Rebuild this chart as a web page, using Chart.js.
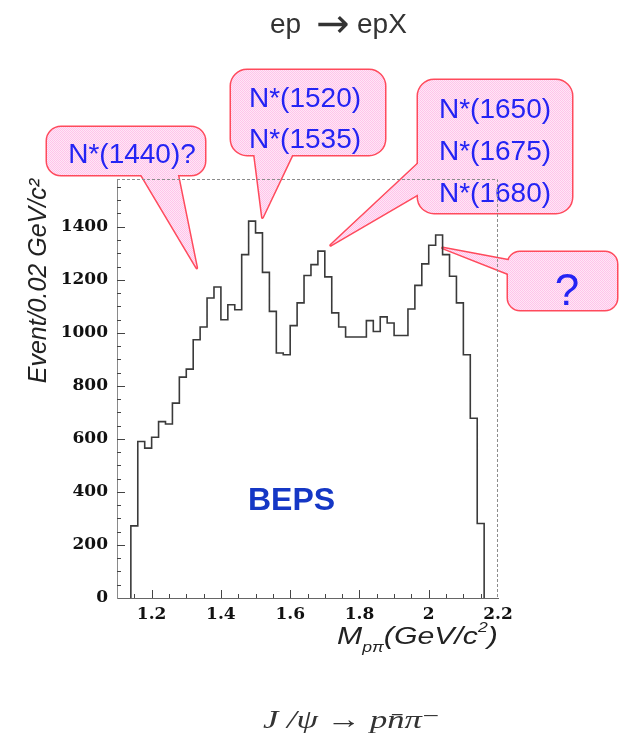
<!DOCTYPE html>
<html>
<head>
<meta charset="utf-8">
<script src="https://cdn.jsdelivr.net/npm/chart.js@4"></script>
<style>
  html, body { margin: 0; padding: 0; background: #fff; }
  #wrap { width: 619px; height: 739px; position: relative; }
</style>
</head>
<body>
<div id="wrap"><canvas id="massChart"></canvas></div>
<script>
// p-pi invariant mass, lower edge of each 0.02 GeV/c^2 bin
const binLow = [
  1.14, 1.16, 1.18, 1.20, 1.22, 1.24, 1.26, 1.28, 1.30, 1.32,
  1.34, 1.36, 1.38, 1.40, 1.42, 1.44, 1.46, 1.48, 1.50, 1.52,
  1.54, 1.56, 1.58, 1.60, 1.62, 1.64, 1.66, 1.68, 1.70, 1.72,
  1.74, 1.76, 1.78, 1.80, 1.82, 1.84, 1.86, 1.88, 1.90, 1.92,
  1.94, 1.96, 1.98, 2.00, 2.02, 2.04, 2.06, 2.08, 2.10, 2.12,
  2.14
];
const binWidth = 0.02;
const counts = [
  272, 590, 565, 606, 665, 656, 735, 833, 863, 974,
  1022, 1131, 1173, 1049, 1106, 1087, 1295, 1421, 1377, 1228,
  1081, 924, 917, 1027, 1113, 1216, 1257, 1308, 1211, 1075,
  1022, 984, 984, 984, 1046, 1005, 1060, 1037, 990, 990,
  1090, 1179, 1260, 1330, 1369, 1295, 1213, 1113, 917, 678,
  281
];

const xTicks = [1.2, 1.4, 1.6, 1.8, 2.0, 2.2];
const xTickLabels = ["1.2", "1.4", "1.6", "1.8", "2", "2.2"];
const yTicks = [0, 200, 400, 600, 800, 1000, 1200, 1400];
const yTickLabels = ["0", "200", "400", "600", "800", "1000", "1200", "1400"];

const resonanceLabels = [
  ["N*(1440)?"],
  ["N*(1520)", "N*(1535)"],
  ["N*(1650)", "N*(1675)", "N*(1680)"],
  ["?"]
];

// step outline: rise from zero at the first edge, drop back after the last bin
const histPoints = [{ x: binLow[0], y: 0 }];
binLow.forEach((x, i) => histPoints.push({ x: x, y: counts[i] }));
histPoints.push({ x: binLow[binLow.length - 1] + binWidth, y: 0 });

Chart.defaults.font.family = '"Liberation Sans", Arial, sans-serif';

// speech-bubble boxes; tip is given in (mass, events)
const callouts = [
  { box: [47, 127, 158, 48], r: 14, base: [[139, 171], [177, 171]], tip: [1.33, 1245],
    tx: 132, ty: 163, gap: 41, size: 28 },
  { box: [231, 70, 154, 85], r: 16, base: [[254, 151], [294, 151]], tip: [1.52, 1435],
    tx: 305, ty: 107, gap: 41, size: 28 },
  { box: [418, 80, 154, 133], r: 16, base: [[422, 160], [422, 192]], tip: [1.717, 1330],
    tx: 495, ty: 118, gap: 42, size: 28 },
  { box: [508, 252, 109, 58], r: 12, base: [[512, 261], [514, 276]], tip: [2.04, 1320],
    tx: 567, ty: 305, gap: 0, size: 44 }
];

function roundRectPath(ctx, x, y, w, h, r) {
  ctx.beginPath();
  ctx.moveTo(x + r, y);
  ctx.arcTo(x + w, y, x + w, y + h, r);
  ctx.arcTo(x + w, y + h, x, y + h, r);
  ctx.arcTo(x, y + h, x, y, r);
  ctx.arcTo(x, y, x + w, y, r);
  ctx.closePath();
}

const calloutPlugin = {
  id: 'callouts',
  beforeDatasetsDraw(chart) {
    const { ctx, scales: { x, y } } = chart;
    const tile = document.createElement('canvas');
    tile.width = tile.height = 2;
    const t = tile.getContext('2d');
    t.fillStyle = '#ffe6f6';
    t.fillRect(0, 0, 2, 2);
    t.fillStyle = '#ffc4ea';
    t.fillRect(0, 0, 1, 1);
    t.fillRect(1, 1, 1, 1);
    const pattern = ctx.createPattern(tile, 'repeat');

    ctx.save();
    callouts.forEach((c, i) => {
      const [bx, by, bw, bh] = c.box;
      const px = x.getPixelForValue(c.tip[0]);
      const py = y.getPixelForValue(c.tip[1]);
      const tail = () => {
        ctx.beginPath();
        ctx.moveTo(c.base[0][0], c.base[0][1]);
        ctx.lineTo(px, py);
        ctx.lineTo(c.base[1][0], c.base[1][1]);
        ctx.closePath();
      };
      // outline first, then the fill covers the inner half and the joins
      ctx.strokeStyle = '#ff4a5c';
      ctx.lineWidth = 3;
      ctx.lineJoin = 'round';
      roundRectPath(ctx, bx, by, bw, bh, c.r);
      ctx.stroke();
      tail();
      ctx.stroke();
      ctx.fillStyle = pattern;
      roundRectPath(ctx, bx, by, bw, bh, c.r);
      ctx.fill();
      tail();
      ctx.fill();

      ctx.fillStyle = '#2424f4';
      ctx.font = c.size + 'px "Liberation Sans", Arial, sans-serif';
      ctx.textAlign = 'center';
      ctx.textBaseline = 'alphabetic';
      resonanceLabels[i].forEach((s, k) => ctx.fillText(s, c.tx, c.ty + k * c.gap));
    });
    ctx.restore();
  }
};

const framePlugin = {
  id: 'frameTicks',
  afterDatasetsDraw(chart) {
    const { ctx, chartArea: a, scales: { x, y } } = chart;
    ctx.save();
    // dotted top and right edges of the frame
    ctx.strokeStyle = '#8c8c8c';
    ctx.lineWidth = 1;
    ctx.setLineDash([3, 2]);
    ctx.beginPath();
    ctx.moveTo(a.left, a.top + 0.5);
    ctx.lineTo(a.right - 0.5, a.top + 0.5);
    ctx.lineTo(a.right - 0.5, a.bottom);
    ctx.stroke();
    ctx.setLineDash([]);

    // inward ticks: majors every 200 / 0.2, minors every 50 / 0.05
    ctx.strokeStyle = '#444';
    ctx.beginPath();
    for (let v = 50; v <= 1550; v += 50) {
      const py = Math.round(y.getPixelForValue(v)) + 0.5;
      const len = v % 200 === 0 ? 8 : 4;
      ctx.moveTo(a.left, py);
      ctx.lineTo(a.left + len, py);
    }
    for (let k = 23; k <= 43; k++) {
      const px = Math.round(x.getPixelForValue(k * 0.05)) + 0.5;
      const len = k % 4 === 0 ? 8 : 4;
      ctx.moveTo(px, a.bottom);
      ctx.lineTo(px, a.bottom - len);
    }
    ctx.stroke();
    ctx.restore();
  },
  afterDraw(chart) {
    const { ctx } = chart;
    ctx.save();
    ctx.textBaseline = 'alphabetic';

    // reaction title, larger arrow between the two halves
    ctx.fillStyle = '#333';
    ctx.textAlign = 'left';
    ctx.font = '28px "Liberation Sans", Arial, sans-serif';
    ctx.fillText('ep', 270, 33);
    ctx.fillText('epX', 357, 33);
    ctx.textAlign = 'center';
    ctx.font = '40px "DejaVu Sans", sans-serif';
    ctx.fillText('\u2192', 333, 37);

    // experiment tag
    ctx.fillStyle = '#1537c5';
    ctx.font = 'bold 32px "Liberation Sans", Arial, sans-serif';
    ctx.textAlign = 'left';
    ctx.fillText('BEPS', 248, 510);

    // x-axis title with subscript and superscript
    ctx.fillStyle = '#222';
    ctx.translate(337, 644);
    ctx.scale(1.26, 1);
    const big = 'italic 24px "Liberation Sans", Arial, sans-serif';
    const small = 'italic 14px "Liberation Sans", Arial, sans-serif';
    let cx = 0;
    const put = (s, font, dy) => {
      ctx.font = font;
      ctx.fillText(s, cx, dy);
      cx += ctx.measureText(s).width;
    };
    put('M', big, 0);
    put('p\u03c0', small, 8);
    put('(GeV/c', big, 0);
    put('2', small, -12);
    put(')', big, 0);
    ctx.setTransform(1, 0, 0, 1, 0, 0);

    // decay channel
    ctx.fillStyle = '#333';
    ctx.translate(263, 728);
    ctx.scale(1.33, 1);
    ctx.font = 'italic 26px "Liberation Serif", "DejaVu Serif", serif';
    ctx.fillText('J /\u03c8 \u2192 pn\u0304\u03c0\u207b', 0, 0);
    ctx.restore();
  }
};

new Chart(document.getElementById('massChart'), {
  type: 'line',
  data: {
    datasets: [{
      data: histPoints,
      stepped: true,
      borderColor: '#3a3a3a',
      borderWidth: 1.6,
      pointRadius: 0,
      fill: false
    }]
  },
  options: {
    responsive: true,
    maintainAspectRatio: false,
    animation: false,
    events: [],
    layout: { padding: { left: 0, top: 179, right: 121, bottom: 101 } },
    plugins: { legend: { display: false }, tooltip: { enabled: false } },
    scales: {
      x: {
        type: 'linear',
        min: 1.1,
        max: 2.2,
        afterFit: s => { s.height = 40; },
        afterBuildTicks: s => { s.ticks = xTicks.map(v => ({ value: v })); },
        grid: { drawOnChartArea: false, drawTicks: false },
        border: { color: '#666', width: 1 },
        ticks: {
          padding: 6,
          color: '#111',
          maxRotation: 0,
          font: { family: '"DejaVu Serif", serif', weight: 'bold', size: 17 },
          callback: (v, i) => xTickLabels[i]
        }
      },
      y: {
        min: 0,
        max: 1580,
        afterFit: s => { s.width = 117; },
        afterBuildTicks: s => { s.ticks = yTicks.map(v => ({ value: v })); },
        grid: { drawOnChartArea: false, drawTicks: false },
        border: { color: '#8a8a8a', width: 1 },
        ticks: {
          padding: 9,
          color: '#111',
          font: { family: '"DejaVu Serif", serif', weight: 'bold', size: 17 },
          callback: (v, i) => yTickLabels[i]
        },
        title: {
          display: true,
          text: 'Event/0.02 GeV/c\u00b2',
          align: 'end',
          color: '#222',
          padding: { top: 24, bottom: 0 },
          font: { style: 'italic', size: 25 }
        }
      }
    }
  },
  plugins: [calloutPlugin, framePlugin]
});
</script>
</body>
</html>
